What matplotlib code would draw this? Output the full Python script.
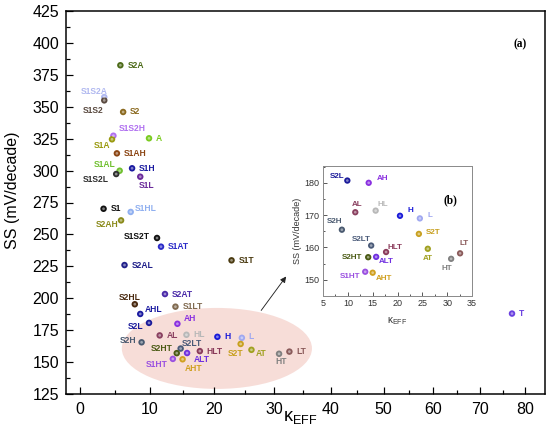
import matplotlib
matplotlib.use("Agg")
import matplotlib.pyplot as plt
from matplotlib.patches import Ellipse
from matplotlib.ticker import MultipleLocator
import numpy as np

plt.rcParams['font.family'] = ['Liberation Sans', 'DejaVu Sans']
plt.rcParams['mathtext.fontset'] = 'custom'
plt.rcParams['mathtext.rm'] = 'Liberation Sans'

# data
names = ['S2A', 'S1S2A', 'S1S2', 'S2', 'S1S2H', 'S1A', 'A', 'S1AH', 'S1AL', 'S1S2L',
         'S1H', 'S1L', 'S1', 'S1HL', 'S2AH', 'S1S2T', 'S1AT', 'S2AL', 'S1T', 'S2AT',
         'S2HL', 'S1LT', 'AHL', 'AH', 'S2L', 'AL', 'HL', 'H', 'L', 'S2H',
         'S2LT', 'S2HT', 'HLT', 'S2T', 'AT', 'S1HT', 'ALT', 'AHT', 'HT', 'LT', 'T']
kappa = [5.7, 3.4, 3.4, 6.1, 4.7, 4.5, 9.9, 5.2, 5.6, 5.1,
         7.4, 8.6, 3.3, 7.2, 5.8, 11.1, 11.7, 6.3, 22.8, 12.3,
         7.8, 13.9, 8.6, 14.2, 9.9, 11.5, 15.6, 20.5, 24.5, 8.8,
         14.7, 14.1, 17.7, 24.3, 26.1, 13.5, 15.7, 15.0, 30.8, 32.6, 77.0]
ss = [382.5, 357.6, 355.0, 345.9, 327.3, 324.5, 325.3, 313.5, 299.9, 297.3,
      301.8, 295.2, 270.1, 267.6, 261.0, 247.2, 240.4, 226.0, 229.7, 203.3,
      195.3, 193.4, 187.7, 180.0, 180.7, 170.9, 171.4, 169.8, 169.0, 165.5,
      160.6, 157.0, 158.6, 164.2, 159.6, 152.5, 157.1, 152.2, 156.5, 158.2, 188.0]
colors = ['#4d6b19', '#b0b8f0', '#5a4a40', '#8b6a20', '#b070f0', '#9a9a10', '#7acb20', '#8b4513', '#70c030', '#303030',
          '#1a1aa0', '#6a2a9a', '#111111', '#90b0f0', '#8a8a1a', '#111111', '#2a2ac8', '#20208a', '#4a3a10', '#4a2aa8',
          '#4a2a10', '#806a50', '#1a1aa0', '#8a30e0', '#1a1a9a', '#8a4060', '#b8b8b8', '#1a1ad8', '#a0a8f0', '#4a5a70',
          '#4a5a78', '#4a5a14', '#8a3a5a', '#c8a020', '#a0a020', '#9a50e0', '#7030e0', '#d0a020', '#808080', '#8a5a5a', '#6a40e0']

# label placement (offset in px, horizontal alignment)
main_lab = {'S2A': (7, 0, 'left'), 'S1S2A': (-10, 6, 'center'), 'S1S2': (-11, -10, 'center'),
            'S2': (7, 0, 'left'), 'S1S2H': (5, 7, 'left'), 'S1A': (-10, -6, 'center'),
            'A': (7, 0, 'left'), 'S1AH': (7, 0, 'left'), 'S1AL': (-15, 6, 'center'),
            'S1S2L': (-7, -5, 'right'), 'S1H': (7, 0, 'left'), 'S1L': (6, -9, 'center'),
            'S1': (7, 0, 'left'), 'S1HL': (4, 3, 'left'), 'S2AH': (-3, -4, 'right'),
            'S1S2T': (-7, 1, 'right'), 'S1AT': (7, 0, 'left'), 'S2AL': (7, 0, 'left'),
            'S1T': (7, 0, 'left'), 'S2AT': (7, 0, 'left'), 'S2HL': (-5, 7, 'center'),
            'S1LT': (7, 0, 'left'), 'AHL': (5, 4, 'left'), 'AH': (6, 5, 'left'),
            'S2L': (-6, -4, 'right'), 'AL': (7, 0, 'left'), 'HL': (7, 0, 'left'),
            'H': (7, 0, 'left'), 'L': (7, 1, 'left'), 'S2H': (-5, 2, 'right'),
            'S2LT': (11, 5, 'center'), 'S2HT': (-4, 5, 'right'), 'HLT': (7, 0, 'left'),
            'S2T': (-5, -10, 'center'), 'AT': (4, -4, 'left'), 'S1HT': (-5, -6, 'right'),
            'ALT': (7, -6, 'left'), 'AHT': (11, -9, 'center'), 'HT': (2, -8, 'center'),
            'LT': (7, 0, 'left'), 'T': (7, 0, 'left')}
inset_lab = {'S2L': (-3, 4, 'right'), 'AH': (8, 4, 'left'), 'AL': (2, 8, 'center'),
             'HL': (2, 6, 'left'), 'H': (8, 5, 'left'), 'L': (8, 3, 'left'),
             'S2H': (-7, 8, 'center'), 'S2T': (7, 1, 'left'), 'S2LT': (-10, 6, 'center'),
             'HLT': (1, 5, 'left'), 'AT': (0, -10, 'center'), 'LT': (4, 10, 'center'),
             'HT': (-4, -10, 'center'), 'S2HT': (-6, 0, 'right'), 'ALT': (3, -5, 'left'),
             'S1HT': (-5, -5, 'right'), 'AHT': (3, -6, 'left')}


def fwd(x):
    return np.log(np.maximum(np.asarray(x, dtype=float) + 120, 1e-9))


def inv(y):
    return np.exp(y) - 120


def balls(ax, xs, ys, cs, size):
    ax.scatter(xs, ys, s=size, c=cs, edgecolors='none', zorder=4)
    ax.scatter(xs, ys, s=size * 0.18, c='white', alpha=0.45, edgecolors='none', zorder=5)


fig = plt.figure(figsize=(550 / 72, 430 / 72), dpi=72)
ax = fig.add_axes([66 / 550, 1 - 394 / 430, 479 / 550, 383 / 430])
ax.set_xscale('function', functions=(fwd, inv))
ax.set_xlim(-1.9, 84.6)
ax.set_ylim(125, 425)

balls(ax, kappa, ss, colors, 42)
for n, x, y, c in zip(names, kappa, ss, colors):
    dx, dy, ha = main_lab[n]
    ax.annotate(n, (x, y), xytext=(dx, dy), textcoords='offset points',
                ha=ha, va='center', fontsize=8.5, fontweight='bold', color=c, zorder=6)

ell = Ellipse((0.315, 0.119), 0.397, 0.2115, transform=ax.transAxes,
              facecolor='#f5d2cc', edgecolor='none', alpha=0.75, zorder=1)
ax.add_patch(ell)
ax.annotate('', xy=(0.462, 0.311), xytext=(0.405, 0.214), xycoords='axes fraction',
            arrowprops=dict(arrowstyle='-|>', color='#222222', lw=0.9, mutation_scale=12), zorder=3)

ax.xaxis.set_major_locator(MultipleLocator(10))
ax.xaxis.set_minor_locator(MultipleLocator(5))
ax.yaxis.set_major_locator(MultipleLocator(25))
ax.yaxis.set_minor_locator(MultipleLocator(12.5))
ax.tick_params(which='both', direction='in', labelsize=16, width=1.2)
ax.tick_params(which='major', length=7)
ax.tick_params(which='minor', length=4)
ax.tick_params(axis='x', pad=8)
ax.tick_params(axis='y', pad=7)
for sp in ax.spines.values():
    sp.set_linewidth(1.5)

ax.set_ylabel('SS (mV/decade)', fontsize=16)
ax.yaxis.set_label_coords(-0.096, 0.533)
ax.set_xlabel(r'κ$_{\mathregular{EFF}}$', fontsize=18)
ax.xaxis.set_label_coords(0.49, -0.038)
ax.text(0.948, 0.914, '(a)', transform=ax.transAxes, fontsize=11.5, fontweight='bold',
        family='Liberation Serif', ha='center', va='center')

# inset (b)
axi = fig.add_axes([323 / 550, 1 - 296 / 430, 149 / 550, 130 / 430])
axi.set_xlim(5, 35)
axi.set_ylim(145, 185.2)
inset_idx = [i for i, n in enumerate(names) if n in inset_lab]
balls(axi, [kappa[i] for i in inset_idx], [ss[i] for i in inset_idx],
      [colors[i] for i in inset_idx], 40)
for i in inset_idx:
    dx, dy, ha = inset_lab[names[i]]
    axi.annotate(names[i], (kappa[i], ss[i]), xytext=(dx, dy), textcoords='offset points',
                 ha=ha, va='center', fontsize=8, fontweight='bold', color=colors[i], zorder=6)
axi.xaxis.set_major_locator(MultipleLocator(5))
axi.xaxis.set_minor_locator(MultipleLocator(2.5))
axi.yaxis.set_major_locator(MultipleLocator(10))
axi.yaxis.set_minor_locator(MultipleLocator(5))
axi.tick_params(which='both', direction='in', labelsize=9, colors='#333333', width=0.8)
axi.tick_params(which='major', length=4)
axi.tick_params(which='minor', length=2)
for sp in axi.spines.values():
    sp.set_color('#8c8c8c')
    sp.set_linewidth(1)
axi.set_ylabel('SS (mV/decade)', fontsize=9, color='#333333')
axi.yaxis.set_label_coords(-0.14, 0.5)
axi.set_xlabel(r'κ$_{\mathregular{EFF}}$', fontsize=10, color='#333333')
axi.xaxis.set_label_coords(0.5, -0.15)
axi.text(0.852, 0.738, '(b)', transform=axi.transAxes, fontsize=11.5, fontweight='bold',
         family='Liberation Serif', ha='center', va='center')

fig.savefig('out.png', dpi=72)
